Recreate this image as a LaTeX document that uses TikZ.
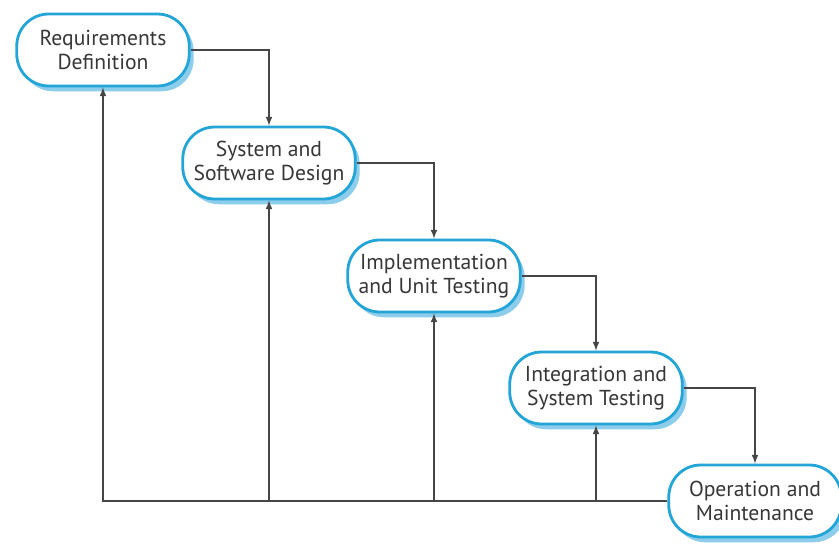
\documentclass[tikz,border=0pt]{standalone}
\usepackage{fontspec}
\setmainfont{PT Sans}
\usepackage{tikz}
\usetikzlibrary{arrows,shadows,positioning}

\definecolor{BoxLine}{RGB}{35,165,215}
\definecolor{BoxShade}{RGB}{140,205,235}
\definecolor{FlowGray}{RGB}{70,70,70}
\definecolor{TextGray}{RGB}{55,55,55}

\begin{document}
\begin{tikzpicture}
			\tikzstyle{Stage} 	= [draw=BoxLine, line width=1.6pt, fill=white, rounded corners=0.64cm,
			                   minimum width=3.45cm, minimum height=1.44cm, align=center,
			                   text=TextGray, font=\fontsize{12.3}{14}\selectfont,
			                   drop shadow={shadow xshift=2.5pt, shadow yshift=-3pt, fill=BoxShade, opacity=1}]
			\tikzstyle{Flow}	= [-latex, FlowGray, line width=0.7pt]
			
			\useasboundingbox (0,0) rectangle (16.78,-11.0);
			
			\node (s1) at (2.06, -1.00) [Stage] {Requirements\\Definition};
			\node (s2) at (5.38, -3.26) [Stage] {System and\\Software Design};
			\node (s3) at (8.68, -5.52) [Stage] {Implementation\\and Unit Testing};
			\node (s4) at (11.92, -7.76) [Stage] {Integration and\\System Testing};
			\node (s5) at (15.10, -10.02) [Stage] {Operation and\\Maintenance};
			
			% going down
			\draw (s1.east) -| (s2.north) [Flow];
			\draw (s2.east) -| (s3.north) [Flow];
			\draw (s3.east) -| (s4.north) [Flow];
			\draw (s4.east) -| (s5.north) [Flow];
			
			% going back
			\draw (s5.west) -| (s1.south) [Flow];
			\draw (s5.west -| s2.south) -- (s2.south) [Flow];
			\draw (s5.west -| s3.south) -- (s3.south) [Flow];
			\draw (s5.west -| s4.south) -- (s4.south) [Flow];
		\end{tikzpicture}
\end{document}
